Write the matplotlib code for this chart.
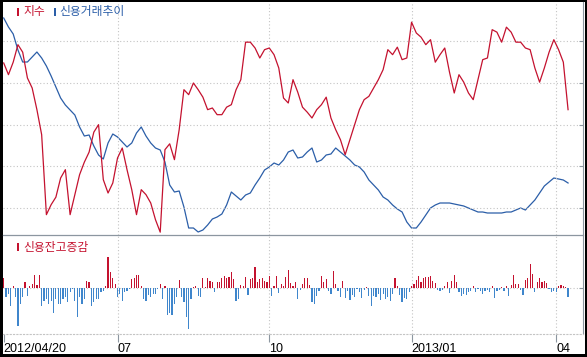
"""
Index vs. credit trading chart (지수 / 신용거래추이 / 신용잔고증감).

Upper panel: index line and credit trading line on independent scales.
Lower panel: daily change of credit balance as up/down bars.
"""

import matplotlib

matplotlib.use("Agg")

import matplotlib.pyplot as plt
import numpy as np
from matplotlib.patches import Rectangle

plt.rcdefaults()
plt.rcParams["axes.grid"] = False
plt.rcParams["xtick.minor.visible"] = False
plt.rcParams["ytick.minor.visible"] = False

FIG_W, FIG_H = 587, 357
DPI = 100

KR_FONT = ["Noto Sans CJK KR", "DejaVu Sans"]
NUM_FONT = ["Liberation Sans", "DejaVu Sans"]

RED = "#c4122f"
BLUE = "#2b5ea8"
BAR_BLUE = "#3f86cc"
GRID = "#c4c4c4"
SPINE = "#8c96a0"
DOTTED = (0, (1, 2))

# x axis: trading-day index from 2012/04/20
date_labels = ["2012/04/20", "07", "10", "2013/01", "04"]
date_label_days = [0, 48, 112, 172, 233]

# reference levels (dotted lines, right-edge tick marks)
index_grid = [1800, 1850, 1900, 1950, 2000]
change_grid = [0]

# 지수, read every 2nd trading day
index_values = [
    1974, 1960, 1975, 1996, 1987, 1956, 1944, 1918, 1888, 1792,
    1804, 1813, 1836, 1846, 1792, 1816, 1840, 1855, 1867, 1891,
    1900, 1834, 1818, 1830, 1860, 1872, 1846, 1822, 1792, 1822,
    1816, 1806, 1786, 1771, 1870, 1877, 1858, 1894, 1942, 1936,
    1950, 1942, 1933, 1918, 1920, 1912, 1912, 1921, 1924, 1942,
    1954, 1999, 1999, 1992, 1980, 1990, 1992, 1984, 1968, 1932,
    1926, 1954, 1939, 1921, 1915, 1908, 1918, 1924, 1933, 1908,
    1894, 1882, 1864, 1882, 1900, 1918, 1930, 1934, 1944, 1954,
    1966, 1990, 1984, 1993, 1978, 1980, 2023, 2010, 2005, 1996,
    2002, 1975, 1984, 1992, 1963, 1938, 1960, 1951, 1938, 1930,
    1954, 1978, 1980, 2014, 2011, 1999, 2017, 2011, 1999, 1999,
    1992, 1990, 1968, 1951, 1968, 1987, 2002, 1990, 1975, 1918,
]

# 신용거래추이 (억원), read every 2nd trading day
credit_trade_values = [
    48680, 48320, 48040, 47400, 46920, 46920, 47120, 47320, 47080, 46760,
    46360, 45920, 45480, 45200, 45000, 44800, 44320, 43960, 44000, 43560,
    43200, 43040, 43680, 44040, 43920, 43720, 43520, 43680, 44080, 44320,
    43960, 43680, 43480, 43400, 42920, 42000, 41720, 41760, 41120, 40280,
    40280, 40120, 40200, 40400, 40640, 40720, 40840, 41200, 41720, 41560,
    41400, 41600, 41680, 42000, 42280, 42600, 42720, 42880, 42800, 43000,
    43320, 43400, 43080, 43120, 43320, 43480, 42920, 43000, 43200, 43240,
    43480, 43320, 43160, 43000, 42800, 42720, 42520, 42200, 42000, 41800,
    41520, 41400, 41200, 41040, 40920, 40520, 40280, 40280, 40520, 40800,
    41080, 41200, 41280, 41280, 41280, 41240, 41200, 41160, 41080, 41000,
    40920, 40920, 40880, 40880, 40880, 40880, 40920, 40920, 41000, 41080,
    41000, 41200, 41400, 41680, 41960, 42120, 42280, 42240, 42200, 42080,
]

# 신용잔고증감 (억원), daily
credit_balance_change = [
    100, -90, -60, -180, 20, -90, -380, -160, -90, 60,
    -80, 20, 40, 130, 30, 130, -180, -130, -110, -160,
    -130, -250, -110, -160, -160, -110, -90, -140, -40, -10,
    -130, -290, -90, -160, -110, 70, 60, -180, -140, -110,
    -110, -40, -30, 20, 310, 160, 100, 40, -90, -60,
    -130, -40, -30, -10, 90, 100, 130, 130, 20, -110,
    -130, -70, -90, -60, -60, -10, 40, -110, 20, -270,
    -250, -270, -160, -90, 80, -90, -140, -290, -410, -110,
    10, 20, -80, -90, 100, 10, 100, 70, 60, -40,
    60, 60, 100, 120, 100, 110, 160, 90, -130, -110,
    30, 20, 110, -70, 90, 100, 210, 60, 90, 100,
    70, 60, 120, -80, 20, 120, -50, 40, 20, 110,
    180, 50, 20, 60, -110, -20, 40, 100, 100, 30,
    -140, -160, -80, -30, 120, 60, 90, -30, -60, 170,
    40, -30, -90, 70, -100, -30, -120, -70, -90, -10,
    -40, -100, -20, 10, -80, -180, -80, -90, -60, -120,
    -60, -110, -90, -130, -60, 100, 20, -70, -140, -100,
    -110, -40, 20, 40, 80, 120, 60, 100, 110, 110,
    120, 70, 50, -20, -30, -20, 20, 60, -50, 70,
    130, 60, -40, -80, -60, -70, -40, -30, 20, -40,
    -10, -30, -60, -30, -20, -40, 20, -100, -30, -20,
    10, -30, 20, -80, 30, 130, 40, 40, -20, -70,
    80, 100, 240, 140, -40, 60, 100, 60, 70, 50,
    -10, -40, -30, -40, 20, 30, 20, 10, -90,
]


def px_rect(x0, y0, x1, y1):
    """Convert a pixel box (top-left origin) to figure fractions."""
    return [x0 / FIG_W, 1 - y1 / FIG_H, (x1 - x0) / FIG_W, (y1 - y0) / FIG_H]


def px_point(x, y):
    return x / FIG_W, 1 - y / FIG_H


def add_swatch(fig, x, y, color):
    """Small vertical legend swatch centred on pixel (x, y)."""
    fx, fy = px_point(x - 1.3, y + 4)
    fig.add_artist(
        Rectangle((fx, fy), 2.6 / FIG_W, 8 / FIG_H,
                  transform=fig.transFigure, color=color, lw=0)
    )


def style_panel(ax, y_grid):
    """Shared styling: right tick marks, dotted reference lines."""
    for side in ("left", "top"):
        ax.spines[side].set_visible(False)
    ax.spines["right"].set_color(SPINE)
    ax.spines["right"].set_linewidth(0.8)
    ax.set_xlim(-0.3, 244.3)
    ax.set_xticks(date_label_days)
    ax.yaxis.tick_right()
    ax.set_yticks(y_grid)
    ax.minorticks_off()
    ax.grid(False)
    ax.tick_params(axis="y", direction="in", length=3, width=0.8,
                   color=SPINE, labelright=False, labelleft=False)

    for day in date_label_days[1:]:
        ax.axvline(day, color=GRID, linestyle=DOTTED, linewidth=0.8, zorder=0)
    for level in y_grid:
        ax.axhline(level, color=GRID, linestyle=DOTTED, linewidth=0.8,
                   zorder=0)


fig = plt.figure(figsize=(FIG_W / DPI, FIG_H / DPI), dpi=DPI, facecolor="black")

bg = fig.add_axes(px_rect(3, 2, 585, 354))
bg.set_axis_off()
bg.add_patch(Rectangle((0, 0), 1, 1, transform=bg.transAxes,
                       facecolor="white", lw=0))
bg.set_zorder(-10)

# upper panel
top = fig.add_axes(px_rect(3, 2, 583, 235))
top.patch.set_alpha(0)
line_days = np.arange(0, 2 * len(index_values), 2)

credit_ax = top.twinx()
credit_ax.plot(line_days, credit_trade_values, color=BLUE, linewidth=0.9)
credit_ax.set_ylim(40000, 49320)
credit_ax.set_yticks([])
credit_ax.minorticks_off()
credit_ax.grid(False)
for spine in credit_ax.spines.values():
    spine.set_visible(False)
credit_ax.set_zorder(top.get_zorder() - 1)
credit_ax.patch.set_alpha(0)

top.plot(line_days, index_values, color=RED, linewidth=0.9)
top.set_ylim(1767.6, 2047.2)
style_panel(top, index_grid)
top.spines["bottom"].set_color(SPINE)
top.spines["bottom"].set_linewidth(0.9)
top.tick_params(axis="x", length=0, labelbottom=False)

# lower panel
bot = fig.add_axes(px_rect(3, 236, 583, 334))
bot.patch.set_alpha(0)
bar_days = np.arange(len(credit_balance_change))
bar_colors = [RED if v > 0 else BAR_BLUE for v in credit_balance_change]
bot.bar(bar_days, credit_balance_change, width=0.5, color=bar_colors,
        linewidth=0, zorder=2)
bot.set_ylim(-457, 523)
style_panel(bot, change_grid)
bot.spines["bottom"].set_color(GRID)
bot.spines["bottom"].set_linestyle(DOTTED)
bot.spines["bottom"].set_linewidth(0.8)
bot.set_xticklabels(date_labels, ha="left", family=NUM_FONT, fontsize=9,
                    color="black")
bot.tick_params(axis="x", direction="out", length=5.5, width=0.8,
                color=SPINE, pad=0.8)

# legends
add_swatch(fig, 18, 12, RED)
fig.text(*px_point(23, 12), "지수", color=RED, fontsize=8.5,
         family=KR_FONT, va="center")
add_swatch(fig, 55, 12, BLUE)
fig.text(*px_point(59, 12), "신용거래추이", color=BLUE, fontsize=8.5,
         family=KR_FONT, va="center")
add_swatch(fig, 18, 247, RED)
fig.text(*px_point(23, 247), "신용잔고증감", color=RED, fontsize=8.5,
         family=KR_FONT, va="center")

fig.savefig("out.png", dpi=DPI, facecolor=fig.get_facecolor())
plt.close(fig)
